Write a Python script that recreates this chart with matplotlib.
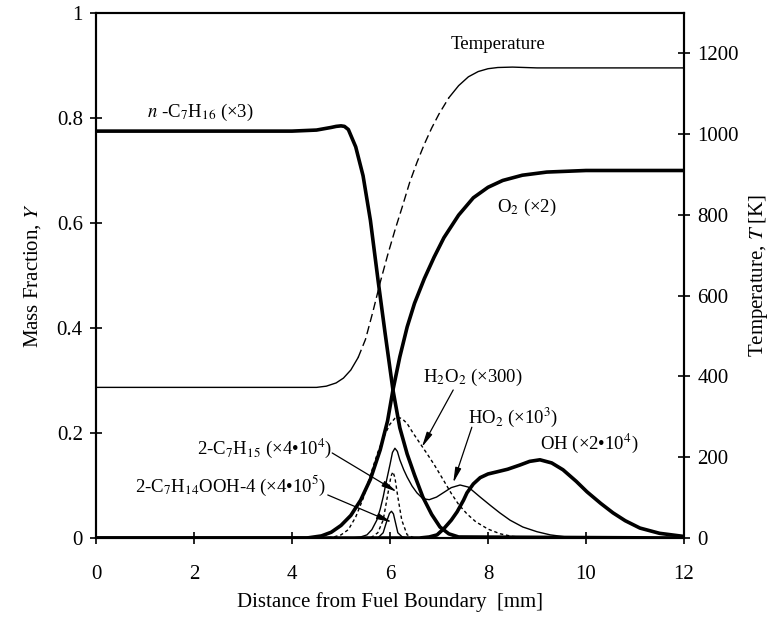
import matplotlib
matplotlib.use("Agg")
import matplotlib.pyplot as plt

# ===============================================
# Species and temperature profiles vs distance
# ===============================================

plt.rcParams["font.family"] = ["Liberation Serif", "DejaVu Serif"]
plt.rcParams["mathtext.fontset"] = "stix"

# n-C7H16 (x3)
x_fuel = [0, 4.0, 4.5, 4.8, 4.9, 5.0, 5.07, 5.15, 5.3, 5.45, 5.6, 5.76, 5.9, 6.06,
          6.2, 6.35, 6.5, 6.67, 6.85, 7.02, 7.2, 7.4, 12]
y_fuel = [0.775, 0.775, 0.777, 0.782, 0.784, 0.785, 0.784, 0.778, 0.745, 0.69, 0.605,
          0.488, 0.39, 0.282, 0.21, 0.16, 0.12, 0.078, 0.045, 0.021, 0.008, 0.002, 0.0]

# O2 (x2)
x_o2 = [0, 4.3, 4.6, 4.8, 5.0, 5.2, 5.4, 5.6, 5.8, 5.95, 6.06, 6.2, 6.35, 6.5, 6.7,
        6.9, 7.1, 7.4, 7.7, 8.0, 8.3, 8.7, 9.2, 10.0, 12]
y_o2 = [0, 0, 0.004, 0.011, 0.024, 0.043, 0.072, 0.112, 0.168, 0.223, 0.282, 0.345,
        0.402, 0.447, 0.494, 0.535, 0.572, 0.615, 0.648, 0.668, 0.681, 0.691, 0.697,
        0.70, 0.70]

# Temperature [K]
x_temp = [0, 4.5, 4.7, 4.9, 5.05, 5.2, 5.35, 5.5, 5.65, 5.8, 5.95, 6.1, 6.25, 6.4,
          6.55, 6.7, 6.85, 7.0, 7.2, 7.4, 7.6, 7.8, 8.0, 8.2, 8.5, 9.0, 12]
t_temp = [373, 373, 376, 384, 396, 416, 447, 492, 560, 633, 700, 762, 820, 880,
          930, 975, 1015, 1050, 1090, 1120, 1142, 1155, 1162, 1165, 1166, 1164, 1164]

# H2O2 (x300)
x_h2o2 = [0, 4.6, 4.85, 5.0, 5.15, 5.3, 5.45, 5.6, 5.75, 5.9, 6.0, 6.1, 6.17, 6.25,
          6.35, 6.47, 6.6, 6.76, 6.9, 7.08, 7.25, 7.4, 7.57, 7.75, 8.0, 8.25, 8.5,
          9.0, 12]
y_h2o2 = [0, 0, 0.002, 0.006, 0.016, 0.04, 0.075, 0.12, 0.163, 0.198, 0.217, 0.228,
          0.230, 0.227, 0.218, 0.2, 0.182, 0.16, 0.14, 0.112, 0.085, 0.064, 0.046,
          0.031, 0.017, 0.008, 0.003, 0, 0]

# 2-C7H15 (x4e4)
x_c7h15 = [0, 5.6, 5.75, 5.86, 5.96, 6.02, 6.06, 6.1, 6.16, 6.24, 6.35, 6.5, 12]
y_c7h15 = [0, 0, 0.01, 0.034, 0.086, 0.118, 0.126, 0.115, 0.078, 0.034, 0.006, 0, 0]

# 2-C7H14OOH-4 (x4e5)
x_ooh = [0, 5.75, 5.86, 5.94, 5.99, 6.03, 6.07, 6.1, 6.16, 6.25, 6.35, 12]
y_ooh = [0, 0, 0.01, 0.034, 0.047, 0.051, 0.046, 0.034, 0.01, 0.002, 0, 0]

# HO2 (x1e3)
x_ho2 = [0, 5.2, 5.4, 5.53, 5.63, 5.73, 5.8, 5.86, 5.93, 6.0, 6.05, 6.1, 6.15, 6.2,
         6.28, 6.35, 6.45, 6.55, 6.67, 6.8, 6.95, 7.1, 7.25, 7.43, 7.6, 7.84, 8.05,
         8.24, 8.45, 8.71, 9.0, 9.27, 9.6, 10.0, 12]
y_ho2 = [0, 0, 0.002, 0.006, 0.016, 0.034, 0.055, 0.078, 0.11, 0.14, 0.163, 0.171,
         0.165, 0.149, 0.13, 0.116, 0.099, 0.086, 0.075, 0.073, 0.078, 0.087, 0.096,
         0.101, 0.097, 0.078, 0.062, 0.048, 0.034, 0.021, 0.012, 0.006, 0.002, 0, 0]

# OH (x2e4)
x_oh = [0, 6.3, 6.6, 6.8, 6.96, 7.1, 7.25, 7.37, 7.5, 7.57, 7.7, 7.84, 8.0, 8.18,
        8.4, 8.65, 8.85, 9.06, 9.3, 9.53, 9.8, 10.02, 10.3, 10.55, 10.8, 11.1,
        11.5, 12]
y_oh = [0, 0, 0, 0.002, 0.006, 0.018, 0.034, 0.05, 0.072, 0.086, 0.103, 0.115,
        0.122, 0.126, 0.131, 0.139, 0.146, 0.149, 0.143, 0.13, 0.108, 0.088, 0.066,
        0.048, 0.033, 0.019, 0.009, 0.003]

y_ticks = [0, 0.2, 0.4, 0.6, 0.8, 1.0]
y_tick_labels = ["0", "0.2", "0.4", "0.6", "0.8", "1"]
t_ticks = [0, 200, 400, 600, 800, 1000, 1200]
x_ticks = [0, 2, 4, 6, 8, 10, 12]

# ===============================================
# Figure
# ===============================================

fig = plt.figure(figsize=(7.78, 6.18), dpi=100)
ax = fig.add_axes([0.1234, 0.1294, 0.7558, 0.8496])
ax2 = ax.twinx()

thick = 2.6
thin = 1.0

ax.plot(x_fuel, y_fuel, color="black", lw=thick, zorder=5)
ax.plot(x_o2, y_o2, color="black", lw=thick, zorder=5)
ax.plot(x_oh, y_oh, color="black", lw=thick, zorder=5)
ax.plot(x_ho2, y_ho2, color="black", lw=thin)
ax.plot(x_ooh, y_ooh, color="black", lw=thin)
ax.plot(x_h2o2, y_h2o2, color="black", lw=thin, linestyle=(0, (2.4, 2.0)))
ax.plot(x_c7h15, y_c7h15, color="black", lw=thin, linestyle=(0, (2.4, 2.0)))

# temperature: solid where flat, dashed where it climbs
k1 = x_temp.index(5.35)
k2 = x_temp.index(7.2)
ax2.plot(x_temp[:k1 + 1], t_temp[:k1 + 1], color="black", lw=thin)
ax2.plot(x_temp[k1:k2 + 1], t_temp[k1:k2 + 1], color="black", lw=thin,
         linestyle=(0, (6, 3)))
ax2.plot(x_temp[k2:], t_temp[k2:], color="black", lw=thin)

ax.set_xlim(0, 12)
ax.set_ylim(0, 1)
ax2.set_ylim(0, 1300)

ax.set_xticks(x_ticks)
ax.set_yticks(y_ticks)
ax.set_yticklabels(y_tick_labels)
ax2.set_yticks(t_ticks)

for a in (ax, ax2):
    for s in a.spines.values():
        s.set_linewidth(1.5)
ax.tick_params(direction="inout", length=9, width=1.2, labelsize=15, pad=5)
ax.tick_params(axis="x", pad=15)
ax2.tick_params(direction="inout", length=9, width=1.2, labelsize=15, pad=5)

ax.set_xlabel("Distance from Fuel Boundary  [mm]", fontsize=15, labelpad=6)
ax.set_ylabel("Mass Fraction, $Y$", fontsize=15, labelpad=10)
ax2.set_ylabel("Temperature, $T$ [K]", fontsize=15, labelpad=6)

# ===============================================
# Labels and arrows
# ===============================================

fs = 13.5
ax.text(8.2, 0.94, "Temperature", fontsize=fs, ha="center", va="center")
ax.text(1.04, 0.811, "$n$ -C$_7$H$_{16}$ (×3)", fontsize=fs, ha="left", va="center")
ax.text(8.18, 0.63, "O$_2$ (×2)", fontsize=fs, ha="left", va="center")
ax.text(6.67, 0.305, "H$_2$O$_2$ (×300)", fontsize=fs, ha="left", va="center")
ax.text(7.59, 0.23, "HO$_2$ (×10$^3$)", fontsize=fs, ha="left", va="center")
ax.text(9.06, 0.181, "OH (×2•10$^4$)", fontsize=fs, ha="left", va="center")
ax.text(4.82, 0.171, "2-C$_7$H$_{15}$ (×4•10$^4$)", fontsize=fs, ha="right", va="center")
ax.text(4.71, 0.099, "2-C$_7$H$_{14}$OOH-4 (×4•10$^5$)", fontsize=fs, ha="right",
        va="center")

arrow = dict(arrowstyle="-|>,head_length=0.9,head_width=0.18", color="black",
             lw=0.9, shrinkA=0, shrinkB=0)
ax.annotate("", xy=(6.65, 0.173), xytext=(7.29, 0.282), arrowprops=arrow)
ax.annotate("", xy=(7.29, 0.105), xytext=(7.67, 0.211), arrowprops=arrow)
ax.annotate("", xy=(6.14, 0.088), xytext=(4.82, 0.162), arrowprops=arrow)
ax.annotate("", xy=(6.04, 0.03), xytext=(4.73, 0.082), arrowprops=arrow)

fig.savefig("out.png", dpi=100)
print("saved out.png")
